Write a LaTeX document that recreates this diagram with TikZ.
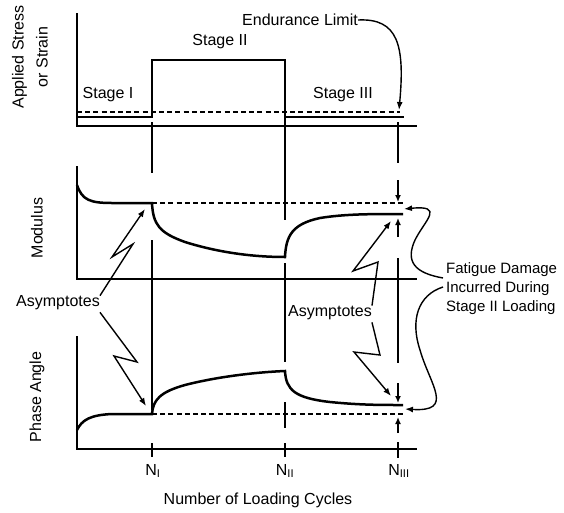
\documentclass[tikz,border=0pt]{standalone}
\usepackage{fontspec}
\setmainfont{Liberation Sans}
\usetikzlibrary{arrows.meta}

\tikzset{
  lbl/.style={font=\fontsize{16}{19}\selectfont, inner sep=0pt},
  axis/.style={line width=1.3pt},
  guide/.style={line width=1.1pt},
  curve/.style={line width=2.5pt},
  asym/.style={line width=2pt, dash pattern=on 5pt off 3.2pt},
  note/.style={-{Latex[length=8pt,width=6pt]}, line width=1.4pt},
  marker/.style={-{Latex[length=7pt,width=6pt]}, line width=1.8pt}
}

\begin{document}
\begin{tikzpicture}[x=1pt,y=-1pt]
        \useasboundingbox (0,0) rectangle (564,512);

        \node [lbl,rotate=90,align=center,font=\fontsize{16}{24}\selectfont] (stressaxis) at (30,57) {Applied Stress\\or Strain};
        \node [lbl,rotate=90] (modaxis) at (37,228) {Modulus};
        \node [lbl,rotate=90] (phaseaxis) at (37,397) {Phase Angle};
        \node [lbl] (cycles) at (258,500) {Number of Loading Cycles};

        \node [lbl] (stage1) at (108,95) {Stage I};
        \node [lbl] (stage2) at (220,42) {Stage II};
        \node [lbl] (stage3) at (343,95) {Stage III};
        \node [lbl] (endur) at (300,20) {Endurance Limit};
        \node [lbl] (asyleft) at (58,303) {Asymptotes};
        \node [lbl] (asyright) at (330,313) {Asymptotes};
        \node [lbl,anchor=west,align=left,font=\fontsize{15}{19}\selectfont] (fatigue) at (446,289) {Fatigue Damage\\Incurred During\\Stage II Loading};

        \node [lbl] (n1) at (153,471) {N\textsubscript{I}};
        \node [lbl] (n2) at (285,471) {N\textsubscript{II}};
        \node [lbl] (n3) at (399,471) {N\textsubscript{III}};

        \coordinate (limtip) at (399,110);
        \coordinate (modtip1) at (145,209);
        \coordinate (phasetip1) at (146,406);
        \coordinate (modtip2) at (391,221);
        \coordinate (phasetip2) at (391,396);
        \coordinate (modgap) at (404,209);
        \coordinate (phasegap) at (405,409);
        \coordinate (fatstart1) at (443,278);
        \coordinate (fatstart2) at (443,287);

        % axes
        \draw[axis] (77,13) -- (77,126) -- (417,126);
        \draw[axis] (77,166) -- (77,279) -- (417,279);
        \draw[axis] (77,336) -- (77,449) -- (417,449);

        % guide lines
        \draw[guide] (152,122) -- (152,173) (152,240) -- (152,410) (152,443) -- (152,457);
        \draw[guide] (285,117) -- (285,220) (285,263) -- (285,362) (285,402) -- (285,428) (285,443) -- (285,457);
        \draw[guide] (398,122) -- (398,163) (398,258) -- (398,363) (398,442) -- (398,458);
        \draw[marker] (398,180) -- (398,202);
        \draw[marker] (398,237) -- (398,218);
        \draw[marker] (398,383) -- (398,403);
        \draw[marker] (398,433) -- (398,417);

        % loading
        \draw[asym] (77,112) -- (400,112);
        \draw[curve] (77,117) -- (152,117) -- (152,60) -- (285,60) -- (285,117) -- (404,117);

        % modulus
        \draw[asym] (152,203) -- (405,203);
        \draw[curve] (77,185) .. controls (82,200) and (90,203) .. (112,203) -- (152,203)
            .. controls (153,225) and (160,233) .. (185,242) .. controls (220,253) and (255,257) .. (285,257)
            .. controls (286,236) and (292,224) .. (320,218) .. controls (345,214) and (370,214) .. (403,214);

        % phase angle
        \draw[asym] (152,414) -- (405,414);
        \draw[curve] (77,430) .. controls (82,420) and (90,415) .. (112,414) -- (152,414)
            .. controls (153,400) and (160,392) .. (185,385) .. controls (220,376) and (260,372) .. (285,371)
            .. controls (286,390) and (295,398) .. (330,402) .. controls (360,405) and (380,405) .. (403,405);

        % callouts
        \draw[note] (endur.east) .. controls (398,18) and (405,45) .. (limtip);
        \draw[note] (asyleft.north east) -- (133,244) -- (112,257) -- (modtip1);
        \draw[note] ([yshift=-2pt]asyleft.south east) -- (137,362) -- (114,356) -- (phasetip1);
        \draw[note] (asyright.north east) -- (378,262) -- (353,271) -- (modtip2);
        \draw[note] ([yshift=-2pt]asyright.south east) -- (380,355) -- (354,352) -- (phasetip2);
        \draw[note] (fatstart1) .. controls (415,273) and (405,262) .. (415,240) .. controls (425,220) and (445,205) .. (modgap);
        \draw[note] (fatstart2) .. controls (418,295) and (410,320) .. (420,350) .. controls (430,385) and (455,412) .. (phasegap);
\end{tikzpicture}
\end{document}
